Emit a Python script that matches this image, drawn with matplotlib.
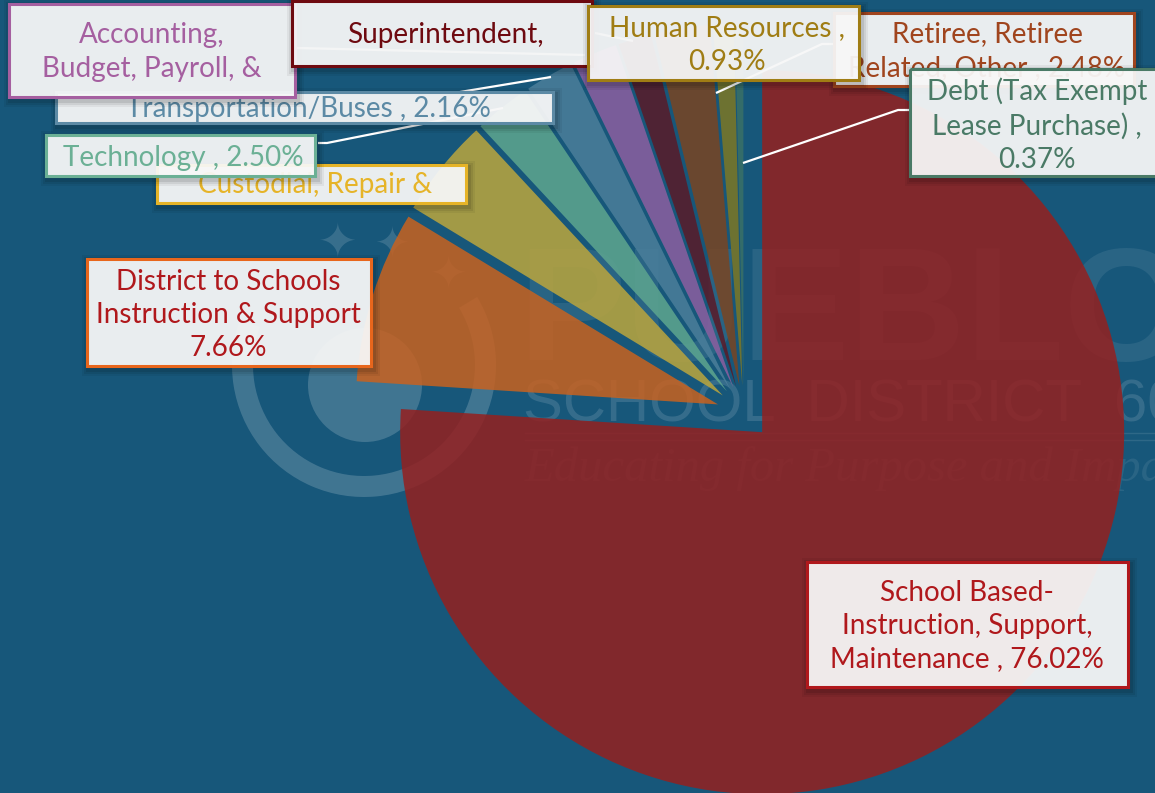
import matplotlib
matplotlib.use("Agg")
import matplotlib.pyplot as plt
from matplotlib.patches import Rectangle, Wedge, Circle

# Dados do gráfico
categorias = ["School Based-Instruction, Support, Maintenance",
              "District to Schools Instruction & Support",
              "Custodial, Repair &", "Technology", "Transportation/Buses",
              "Accounting, Budget, Payroll, &", "Superintendent,",
              "Retiree, Retiree Related, Other", "Human Resources",
              "Debt (Tax Exempt Lease Purchase)"]
valores = [76.02, 7.66, 4.40, 2.50, 2.16, 2.00, 1.48, 2.48, 0.93, 0.37]
cores = ["#95201f", "#c9621f", "#bca63d", "#5ea68f", "#4b7f9b",
         "#8c5fa0", "#5a1a28", "#7a4522", "#7d7725", "#3a7066"]

FUNDO = "#17577a"
FONTE = "Lato"
TAM = 20.1

fig = plt.figure(figsize=(11.55, 7.93), dpi=100, facecolor=FUNDO)
ax = fig.add_axes([0, 0, 1, 1])

# Marca d'água por baixo da pizza
cor_wm = "#ffffff"
ax.add_patch(Wedge((364, 365), 132, -31, 200, width=21, color=cor_wm, alpha=0.18, lw=0, zorder=1))
ax.add_patch(Circle((365, 385), 57, color=cor_wm, alpha=0.18, lw=0, zorder=1))
for sx, sy, s in [(337, 245, 34), (392, 245, 30), (448, 275, 32)]:
    ax.text(sx, sy, "\u2726", color=cor_wm, alpha=0.14, fontsize=s, ha="center", va="center",
            family="DejaVu Sans", zorder=1)
ax.text(518, 360, "PUEBLO", color=cor_wm, alpha=0.08, fontsize=116, family="Liberation Sans",
        weight="bold", ha="left", va="baseline", zorder=1)
ax.text(523, 421, "SCHOOL  DISTRICT  60", color=cor_wm, alpha=0.13, fontsize=43, family="Liberation Sans",
        ha="left", va="baseline", zorder=1)
ax.plot([525, 1155], [433, 433], color=cor_wm, alpha=0.1, lw=1, zorder=1)
ax.plot([525, 1155], [440, 440], color=cor_wm, alpha=0.1, lw=1, zorder=1)
ax.text(525, 481, "Educating for Purpose and Impact", color=cor_wm, alpha=0.08, fontsize=35, style="italic",
        family="Liberation Serif", ha="left", va="baseline", zorder=1)

# Pizza explodida; eixo y invertido, por isso startangle=-90 gira no sentido horário na tela
wedges, _ = ax.pie(valores, colors=cores, startangle=-90, counterclock=True, radius=362,
                   center=(743.7, 412.5), explode=[27] * len(valores),
                   wedgeprops={"alpha": 0.85, "linewidth": 0})
for w in wedges:
    w.set_zorder(2)
ax.set_aspect("auto")
ax.set_xlim(0, 1155)
ax.set_ylim(793, 0)
ax.axis("off")

# Linhas de chamada
linhas = [([318, 327, 503], [143, 143, 108], 1.0),
          ([460, 551], [92, 77], 1.0),
          ([297, 585], [48, 55], 0.8),
          ([595, 633], [33, 41], 0.8),
          ([833, 822, 716], [44, 44, 93], 1.0),
          ([910, 898, 743], [110, 110, 163], 1.0)]
for lx, ly, a in linhas:
    ax.plot(lx, ly, color="white", lw=1.6, alpha=a, zorder=3, solid_capstyle="butt")


def caixa(x0, y0, x1, y1, cor_borda, z, lw=2.2):
    # sombra difusa
    for d, a in [(7, 0.05), (5, 0.07), (3, 0.09)]:
        ax.add_patch(Rectangle((x0 - d + 2, y0 - d + 3), x1 - x0 + 2 * d, y1 - y0 + 2 * d,
                               facecolor="black", alpha=a, lw=0, zorder=z))
    ax.add_patch(Rectangle((x0, y0), x1 - x0, y1 - y0, facecolor="#fbfbfb", alpha=0.93,
                           edgecolor="none", zorder=z + 0.1))
    ax.add_patch(Rectangle((x0, y0), x1 - x0, y1 - y0, facecolor="none", edgecolor=cor_borda,
                           lw=lw, zorder=z + 0.2))


# Rótulos: (caixa, texto, centro, cores), na ordem de empilhamento
rotulos = [
    ((807, 562, 1128, 687), "School Based-\nInstruction, Support,\nMaintenance , 76.02%", (967, 626), "#b0181c", "#b0181c"),
    ((87, 259, 371, 366), "District to Schools\nInstruction & Support\n7.66%", (228, 315), "#b0181c", "#e8661c"),
    ((157, 165, 466, 203), "Custodial, Repair &", (315, 185), "#e6b428", "#e6b428"),
    ((46, 135, 315, 176), "Technology , 2.50%", (183, 158), "#6bb095", "#6bb095"),
    ((56, 92, 553, 123), "Transportation/Buses , 2.16%", (308, 109), "#5c8aa5", "#5c8aa5"),
    ((9, 4, 295, 97), "Accounting,\nBudget, Payroll, &", (152, 52), "#a55fa0", "#a55fa0"),
    ((292, 1, 592, 66), "Superintendent,", (445, 35), "#6e0a10", "#6e0a10"),
    ((834, 13, 1134, 86), "Retiree, Retiree\nRelated, Other , 2.48%", (987, 51), "#a0451e", "#a0451e"),
    ((588, 6, 859, 80), "Human Resources ,\n0.93%", (727, 45), "#a07d14", "#a07d14"),
    ((910, 69, 1170, 176), "Debt (Tax Exempt\nLease Purchase) ,\n0.37%", (1037, 125), "#4a7a66", "#4a7a66"),
]
z = 4
for (x0, y0, x1, y1), texto, (cx, cy), cor_txt, cor_borda in rotulos:
    caixa(x0, y0, x1, y1, cor_borda, z)
    ax.text(cx, cy, texto, color=cor_txt, fontsize=TAM, family=FONTE, ha="center", va="center",
            linespacing=1.34, zorder=z + 0.3)
    z += 1

fig.savefig("out.png", dpi=100, facecolor=FUNDO)
